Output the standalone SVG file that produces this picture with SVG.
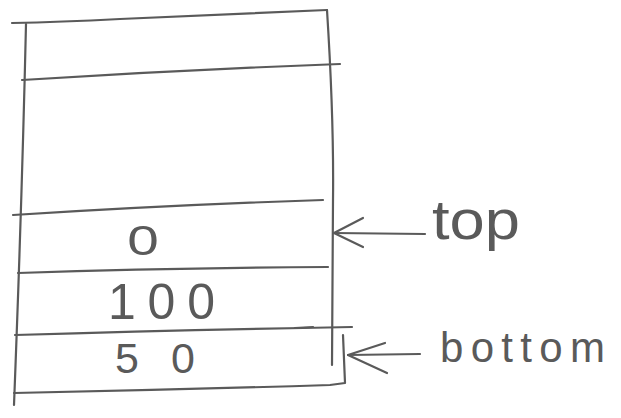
<svg xmlns="http://www.w3.org/2000/svg" width="621" height="418" viewBox="0 0 621 418">
<style>
.ln{fill:none;stroke:#5a5a5a;stroke-width:2.2;stroke-linecap:round;stroke-linejoin:round}
.tx{font-family:"Liberation Sans","DejaVu Sans",sans-serif;fill:#5a5a5a}
</style>
<rect width="621" height="418" fill="#fff"/>
<g id="stack" class="ln">
<path d="M12,23 Q60,22 120,19 Q230,14 327,10"/>
<path d="M26,24 Q22,200 14,405"/>
<path d="M327,10 Q334,120 333,200 L332,365"/>
<path d="M22,80 Q180,70 340,64"/>
<path d="M13,215 Q170,205 323,200"/>
<path d="M18,273 Q170,268 328,267"/>
<path d="M15,335 Q180,330 352,327"/>
<path d="M295,328 L313,327"/>
<path d="M14,393 Q170,390 330,385 L345,383 L343,335"/>
</g>
<g id="cell-0"><text class="tx" x="0" y="0" font-size="42" text-anchor="middle" transform="translate(143,255) scale(1.35,1)">0</text></g>
<g id="cell-100"><text class="tx" x="108" y="319" font-size="50" textLength="107" lengthAdjust="spacing">100</text></g>
<g id="cell-50"><text class="tx" x="115" y="373" font-size="43" textLength="80" lengthAdjust="spacing">50</text></g>
<g id="label-top"><text class="tx" x="432" y="239" font-size="56" textLength="88" lengthAdjust="spacingAndGlyphs">top</text></g>
<g id="label-bottom"><text class="tx" x="440" y="362" font-size="42" textLength="165" lengthAdjust="spacing">bottom</text></g>
<g id="connectors" class="ln">
<path d="M425,234 L334,233"/>
<path d="M363,218 L334,233 L363,247"/>
<path d="M420,354 L348,355"/>
<path d="M385,343 L348,355 L387,373"/>
</g>
</svg>
